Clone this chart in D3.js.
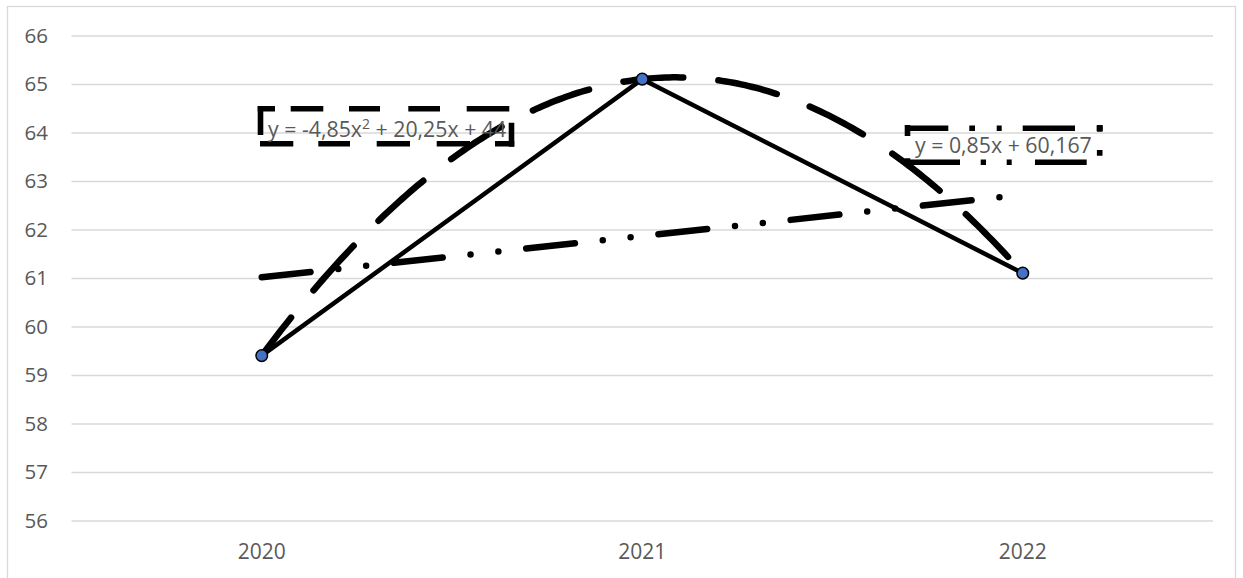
<!DOCTYPE html>
<html><head><meta charset="utf-8">
<script src="https://cdn.jsdelivr.net/npm/d3@7"></script>
<style>body{margin:0;background:#fff}svg{display:block}</style>
</head><body><svg id="c" width="1243" height="578"></svg>
<script>
const categories = ["2020", "2021", "2022"];
const values = [59.4, 65.1, 61.1];
const yTicks = [56, 57, 58, 59, 60, 61, 62, 63, 64, 65, 66];
const polyCoef = [-4.85, 20.25, 44];   // a*x^2 + b*x + c
const linCoef = [0.85, 60.167];        // m*x + k
const polyLabel = ["y = -4,85x", "2", " + 20,25x + 44"];
const linLabel = "y = 0,85x + 60,167";

(function () {
const svg = d3.select("#c");
const pL = 71.5, pR = 1213, pT = 35.5, pB = 520.5;
const txt = "#595959", grid = "#d9d9d9", font = "'Open Sans', sans-serif";

// chart border
svg.append("rect").attr("x", 7.5).attr("y", 6.5).attr("width", 1228).attr("height", 620)
  .attr("fill", "#fff").attr("stroke", grid).attr("stroke-width", 1.3);

const x = d3.scaleBand().domain(categories).range([pL, pR]).padding(0);
const xNum = d3.scaleLinear().domain([0.5, categories.length + 0.5]).range([pL, pR]);
const y = d3.scaleLinear().domain([56, 66]).range([pB, pT]);

// gridlines + y labels
const ya = svg.append("g").attr("transform", `translate(${pL},0)`)
  .call(d3.axisLeft(y).tickValues(yTicks).tickSize(-(pR - pL)).tickPadding(23.5).tickFormat(d3.format("d")));
ya.select(".domain").remove();
ya.selectAll("line").attr("stroke", grid).attr("stroke-width", 1.4);
ya.selectAll("text").attr("fill", txt).attr("font-family", font).attr("font-size", 20.5);

// x labels
const xa = svg.append("g").attr("transform", `translate(0,${pB})`)
  .call(d3.axisBottom(x).tickSize(0).tickPadding(23.6));
xa.select(".domain").remove();
xa.selectAll("text").attr("fill", txt).attr("font-family", font).attr("font-size", 21);

// polynomial trendline
const ts = d3.range(1, categories.length + 0.0001, 0.01);
const polyPts = ts.map(t => [xNum(t), y(polyCoef[0] * t * t + polyCoef[1] * t + polyCoef[2])]);
svg.append("path").attr("d", d3.line()(polyPts)).attr("fill", "none")
  .attr("stroke", "#000").attr("stroke-width", 6.5).attr("stroke-linecap", "round")
  .attr("stroke-dasharray", "60 35.3").attr("stroke-dashoffset", 12);

// linear trendline
const linPts = [1, categories.length].map(t => [xNum(t), y(linCoef[0] * t + linCoef[1])]);
svg.append("path").attr("d", d3.line()(linPts)).attr("fill", "none")
  .attr("stroke", "#000").attr("stroke-width", 6.5).attr("stroke-linecap", "round")
  .attr("stroke-dasharray", "49 28 0 28 0 28");

// series line
const line = d3.line().x((d, i) => x(categories[i]) + x.bandwidth() / 2).y(d => y(d));
svg.append("path").attr("d", line(values)).attr("fill", "none")
  .attr("stroke", "#000").attr("stroke-width", 4.5).attr("stroke-linejoin", "round");

svg.selectAll("circle.m").data(values).join("circle").attr("class", "m")
  .attr("cx", (d, i) => x(categories[i]) + x.bandwidth() / 2).attr("cy", d => y(d))
  .attr("r", 5.8).attr("fill", "#4472C4").attr("stroke", "#000").attr("stroke-width", 1.5);

// dashed label frames, drawn side by side
function side(g, x1, y1, x2, y2, dash) {
  g.append("line").attr("x1", x1).attr("y1", y1).attr("x2", x2).attr("y2", y2)
    .attr("stroke", "#000").attr("stroke-width", 5.6).attr("stroke-dasharray", dash);
}

// polynomial label
const pf = svg.append("g");
side(pf, 257.7, 108.8, 514.3, 108.8, "17.3 15.7 32.6 25.7 31 28.3 31.7 26.7 42.6 100");
side(pf, 260.5, 106, 260.5, 146.7, "29 100");
side(pf, 511.5, 106, 511.5, 146.7, "0 16.7 24 100");
side(pf, 257.7, 143.8, 514.3, 143.8, "0 2.3 33.3 25 31.7 26.7 33.3 26.7 33.3 25 20 100");
const pt = svg.append("text").attr("x", 268).attr("y", 136.7).attr("fill", txt)
  .attr("font-family", font).attr("font-size", 21.3);
pt.append("tspan").text(polyLabel[0]);
pt.append("tspan").attr("font-size", 14).attr("dy", -8).text(polyLabel[1]);
pt.append("tspan").attr("dy", 8).text(polyLabel[2]);

// linear label
const lf = svg.append("g");
side(lf, 905, 128.3, 1102.7, 128.3, "43.3 21 5.7 21.7 5 21 52.3 21.7 6 100");
side(lf, 907.5, 125, 907.5, 165, "11 22.3 6.7 100");
side(lf, 1099.7, 125, 1099.7, 165, "6.7 18.3 5.7 100");
side(lf, 905, 162.2, 1102.7, 162.2, "55 20.7 5.3 20.7 5 23.3 51.7 100");
svg.append("text").attr("x", 915).attr("y", 153.3).attr("fill", txt)
  .attr("font-family", font).attr("font-size", 21.3).text(linLabel);
})();
</script></body></html>
